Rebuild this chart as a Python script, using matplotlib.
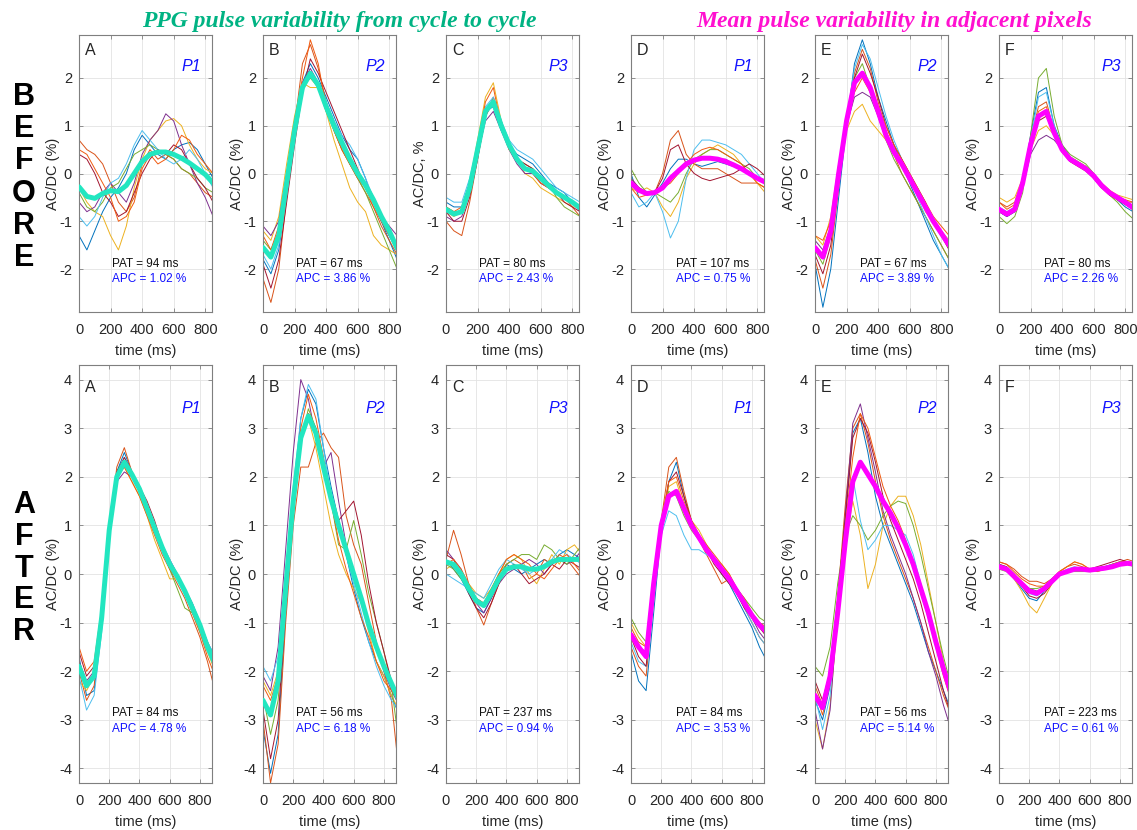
#!/usr/bin/env python3
# -*- coding: utf-8 -*-
"""PPG pulse variability, before / after : 2 x 6 panels."""

import matplotlib
matplotlib.use("Agg")
import matplotlib.pyplot as plt

plt.rcParams["font.family"] = ["Liberation Sans", "DejaVu Sans"]
plt.rcParams["axes.unicode_minus"] = False

# ---------------------------------------------------------------------
# time axes (ms)
t_before = list(range(0, 851, 50))
t_after = list(range(0, 901, 50))

# ---- BEFORE, cycle to cycle -----------------------------------------
before_A_mean = [-0.28, -0.48, -0.52, -0.42, -0.36, -0.38, -0.25, 0.0, 0.25, 0.40, 0.45, 0.45, 0.40, 0.32, 0.22, 0.10, -0.02, -0.2]
before_A_cycles = [
    [-1.3, -1.6, -1.2, -0.8, -0.5, -0.3, 0.0, 0.5, 0.8, 0.6, 0.4, 0.3, 0.5, 0.6, 0.65, 0.5, 0.2, -0.1],
    [0.7, 0.5, 0.4, 0.2, -0.2, -0.6, -0.8, -0.5, 0.2, 0.5, 0.3, 0.4, 0.3, 0.1, 0.0, -0.2, -0.4, -0.5],
    [-0.3, -0.6, -0.8, -0.9, -1.3, -1.6, -1.1, -0.3, 0.3, 0.7, 0.9, 1.1, 1.15, 1.0, 0.6, 0.3, 0.1, 0.0],
    [-0.6, -0.8, -0.7, -0.4, -0.2, -0.4, -0.6, -0.2, 0.4, 0.7, 0.9, 1.25, 1.1, 0.6, 0.2, -0.2, -0.5, -0.9],
    [-0.4, -0.7, -0.8, -0.6, -0.3, -0.2, 0.1, 0.4, 0.5, 0.6, 0.5, 0.4, 0.3, 0.1, 0.0, -0.1, -0.3, -0.4],
    [-0.9, -1.1, -0.9, -0.5, -0.2, -0.1, 0.2, 0.6, 0.9, 0.7, 0.5, 0.3, 0.2, 0.3, 0.5, 0.3, 0.0, -0.3],
    [0.4, 0.3, 0.0, -0.4, -0.6, -0.9, -0.8, -0.4, 0.0, 0.3, 0.5, 0.4, 0.6, 0.5, 0.2, -0.1, -0.3, -0.6],
    [0.5, 0.4, 0.1, -0.2, -0.5, -1.0, -0.9, -0.6, 0.1, 0.4, 0.2, 0.3, 0.5, 0.8, 0.7, 0.4, 0.2, 0.0],
]

before_B_mean = [-1.55, -1.75, -1.3, -0.2, 0.9, 1.8, 2.1, 1.85, 1.4, 1.0, 0.65, 0.3, 0.0, -0.25, -0.55, -0.9, -1.2, -1.57]
before_B_cycles = [
    [-1.8, -2.1, -1.6, -0.4, 0.8, 1.9, 2.3, 2.0, 1.6, 1.2, 0.8, 0.5, 0.3, -0.1, -0.6, -1.0, -1.4, -1.8],
    [-2.2, -2.7, -2.0, -0.5, 1.0, 2.3, 2.7, 2.2, 1.5, 0.9, 0.5, 0.2, -0.1, -0.4, -0.7, -1.1, -1.4, -1.7],
    [-1.2, -1.4, -0.9, 0.2, 1.2, 1.9, 1.8, 1.8, 1.3, 0.7, 0.2, -0.3, -0.6, -0.8, -1.3, -1.5, -1.6, -1.7],
    [-1.1, -1.3, -1.0, 0.0, 1.0, 1.9, 2.2, 1.9, 1.5, 1.1, 0.6, 0.2, 0.0, -0.3, -0.6, -0.9, -1.1, -1.3],
    [-1.4, -1.6, -1.2, -0.1, 1.0, 1.8, 2.0, 1.8, 1.3, 0.9, 0.5, 0.2, -0.1, -0.4, -0.8, -1.2, -1.6, -2.0],
    [-1.7, -2.0, -1.5, -0.3, 0.8, 1.7, 2.1, 1.9, 1.5, 1.1, 0.8, 0.6, 0.3, -0.1, -0.5, -0.9, -1.3, -1.6],
    [-1.9, -2.4, -1.8, -0.6, 0.6, 1.7, 2.4, 2.1, 1.7, 1.3, 0.9, 0.5, 0.1, -0.3, -0.6, -1.0, -1.3, -1.6],
    [-1.3, -1.6, -1.1, 0.0, 1.1, 2.0, 2.8, 2.3, 1.4, 0.9, 0.5, 0.2, -0.1, -0.3, -0.7, -1.0, -1.3, -1.5],
]

before_C_mean = [-0.75, -0.85, -0.8, -0.3, 0.5, 1.3, 1.5, 1.0, 0.6, 0.3, 0.1, 0.05, -0.1, -0.25, -0.4, -0.5, -0.6, -0.72]
before_C_cycles = [
    [-0.6, -0.7, -0.7, -0.2, 0.5, 1.3, 1.4, 0.9, 0.6, 0.4, 0.3, 0.2, 0.0, -0.2, -0.3, -0.4, -0.6, -0.8],
    [-1.0, -1.2, -1.3, -0.6, 0.3, 1.2, 1.6, 1.1, 0.6, 0.3, 0.1, 0.0, -0.2, -0.3, -0.4, -0.5, -0.7, -0.9],
    [-0.8, -0.9, -0.8, -0.2, 0.7, 1.6, 1.9, 1.1, 0.6, 0.3, 0.0, -0.1, -0.3, -0.4, -0.5, -0.6, -0.7, -0.7],
    [-0.9, -1.0, -0.9, -0.4, 0.4, 1.1, 1.3, 0.9, 0.5, 0.2, 0.0, 0.0, -0.2, -0.3, -0.4, -0.5, -0.6, -0.7],
    [-0.7, -0.8, -0.8, -0.3, 0.5, 1.3, 1.5, 1.0, 0.6, 0.3, 0.2, 0.1, -0.1, -0.2, -0.5, -0.7, -0.8, -0.9],
    [-0.5, -0.6, -0.6, -0.1, 0.6, 1.4, 1.6, 1.1, 0.7, 0.5, 0.4, 0.3, 0.1, -0.1, -0.3, -0.4, -0.5, -0.6],
    [-0.8, -1.0, -1.0, -0.5, 0.3, 1.2, 1.5, 1.0, 0.6, 0.3, 0.2, 0.1, -0.1, -0.3, -0.4, -0.6, -0.7, -0.8],
    [-0.7, -0.8, -0.7, -0.2, 0.6, 1.5, 1.8, 1.0, 0.5, 0.3, 0.1, 0.0, -0.2, -0.3, -0.4, -0.5, -0.6, -0.7],
]

# ---- BEFORE, adjacent pixels ----------------------------------------
before_D_mean = [-0.2, -0.35, -0.42, -0.4, -0.3, -0.1, 0.05, 0.2, 0.28, 0.32, 0.32, 0.3, 0.25, 0.18, 0.1, 0.0, -0.1, -0.18]
before_D_cycles = [
    [0.0, -0.5, -0.7, -0.45, -0.2, 0.1, 0.3, 0.3, 0.2, 0.15, 0.2, 0.25, 0.2, 0.15, 0.1, 0.0, -0.1, -0.2],
    [-0.1, -0.3, -0.4, -0.4, 0.0, 0.7, 0.9, 0.4, 0.2, 0.1, 0.1, 0.1, 0.0, -0.1, -0.2, -0.2, -0.2, -0.3],
    [-0.3, -0.4, -0.3, -0.4, -0.7, -0.9, -0.6, -0.1, 0.2, 0.4, 0.5, 0.6, 0.5, 0.4, 0.2, 0.0, -0.2, -0.4],
    [-0.1, -0.3, -0.4, -0.4, -0.3, -0.1, 0.1, 0.2, 0.3, 0.3, 0.3, 0.3, 0.3, 0.2, 0.1, 0.0, -0.1, -0.2],
    [0.1, -0.2, -0.4, -0.4, -0.5, -0.6, -0.4, 0.0, 0.3, 0.4, 0.5, 0.5, 0.4, 0.3, 0.2, 0.1, -0.1, -0.2],
    [-0.4, -0.7, -0.6, -0.4, -0.8, -1.35, -1.0, -0.1, 0.5, 0.7, 0.7, 0.65, 0.6, 0.5, 0.4, 0.2, 0.0, -0.2],
    [-0.2, -0.3, -0.4, -0.4, -0.1, 0.5, 0.6, 0.2, 0.0, -0.1, -0.15, -0.1, -0.05, 0.0, 0.1, 0.2, 0.1, -0.05],
    [-0.3, -0.5, -0.45, -0.4, -0.3, -0.2, 0.0, 0.2, 0.4, 0.5, 0.55, 0.5, 0.4, 0.3, 0.2, 0.0, -0.2, -0.3],
]

before_E_mean = [-1.55, -1.75, -1.2, 0.0, 1.1, 1.9, 2.1, 1.8, 1.3, 0.8, 0.45, 0.2, -0.1, -0.4, -0.7, -1.0, -1.25, -1.5]
before_E_cycles = [
    [-1.9, -2.8, -2.0, -0.5, 1.0, 2.3, 2.8, 2.3, 1.6, 1.1, 0.6, 0.2, -0.2, -0.6, -1.0, -1.4, -1.7, -2.0],
    [-1.8, -2.4, -1.7, -0.3, 1.1, 2.1, 2.6, 2.2, 1.5, 0.9, 0.4, 0.0, -0.3, -0.6, -0.9, -1.2, -1.5, -1.8],
    [-1.3, -1.5, -0.9, 0.2, 0.9, 1.3, 1.45, 1.1, 0.9, 0.7, 0.4, 0.2, -0.1, -0.4, -0.8, -1.0, -1.2, -1.4],
    [-1.4, -1.6, -1.1, 0.1, 1.0, 1.6, 1.7, 1.6, 1.2, 0.8, 0.5, 0.2, -0.1, -0.4, -0.7, -1.0, -1.3, -1.5],
    [-1.6, -1.9, -1.3, 0.0, 1.2, 2.0, 2.3, 1.8, 1.2, 0.7, 0.3, 0.0, -0.3, -0.6, -0.9, -1.2, -1.5, -1.8],
    [-1.5, -1.7, -1.1, 0.0, 1.1, 2.2, 2.7, 2.4, 1.8, 1.2, 0.7, 0.3, -0.1, -0.5, -0.9, -1.3, -1.7, -2.0],
    [-1.7, -2.1, -1.5, -0.2, 1.0, 2.0, 2.5, 2.1, 1.6, 1.0, 0.6, 0.3, 0.0, -0.3, -0.6, -1.0, -1.3, -1.6],
    [-1.3, -1.4, -1.0, 0.1, 1.0, 1.7, 2.0, 1.7, 1.4, 1.0, 0.6, 0.3, 0.0, -0.3, -0.6, -0.9, -1.1, -1.3],
]

before_F_mean = [-0.75, -0.85, -0.75, -0.2, 0.6, 1.2, 1.3, 0.85, 0.5, 0.3, 0.2, 0.1, -0.05, -0.25, -0.4, -0.5, -0.6, -0.72]
before_F_cycles = [
    [-0.8, -0.9, -0.8, -0.2, 0.8, 1.7, 1.8, 1.0, 0.6, 0.35, 0.25, 0.15, 0.0, -0.2, -0.4, -0.55, -0.7, -0.8],
    [-0.6, -0.7, -0.6, -0.1, 0.7, 1.4, 1.5, 0.9, 0.5, 0.3, 0.2, 0.1, -0.1, -0.3, -0.4, -0.5, -0.6, -0.6],
    [-0.5, -0.6, -0.5, -0.1, 0.5, 0.9, 1.0, 0.8, 0.5, 0.35, 0.25, 0.15, 0.0, -0.2, -0.35, -0.45, -0.5, -0.55],
    [-0.8, -0.9, -0.8, -0.3, 0.4, 0.7, 0.8, 0.7, 0.5, 0.3, 0.2, 0.1, -0.05, -0.25, -0.4, -0.5, -0.6, -0.7],
    [-0.9, -1.05, -0.9, -0.4, 0.8, 2.0, 2.2, 1.2, 0.6, 0.4, 0.3, 0.2, 0.0, -0.25, -0.45, -0.6, -0.8, -0.95],
    [-0.7, -0.8, -0.7, -0.2, 0.7, 1.6, 1.7, 1.0, 0.5, 0.3, 0.2, 0.1, -0.05, -0.25, -0.4, -0.5, -0.65, -0.75],
    [-0.75, -0.85, -0.75, -0.2, 0.5, 1.1, 1.2, 0.8, 0.45, 0.25, 0.15, 0.05, -0.1, -0.3, -0.45, -0.55, -0.65, -0.75],
    [-0.6, -0.75, -0.65, -0.15, 0.6, 1.3, 1.4, 0.85, 0.45, 0.3, 0.2, 0.1, -0.05, -0.2, -0.35, -0.5, -0.55, -0.6],
]

# ---- AFTER, cycle to cycle ------------------------------------------
after_A_mean = [-1.9, -2.3, -2.1, -0.9, 0.9, 2.0, 2.3, 2.05, 1.75, 1.35, 0.95, 0.55, 0.2, -0.05, -0.35, -0.7, -1.05, -1.5, -1.85]
after_A_cycles = [
    [-1.7, -2.5, -2.4, -1.1, 0.8, 2.1, 2.5, 2.1, 1.8, 1.4, 1.0, 0.6, 0.2, -0.1, -0.4, -0.7, -1.0, -1.4, -1.7],
    [-2.0, -2.6, -2.3, -1.0, 0.9, 2.2, 2.6, 2.1, 1.7, 1.4, 1.0, 0.5, 0.1, -0.2, -0.5, -0.9, -1.3, -1.8, -2.4],
    [-2.2, -2.4, -2.1, -0.8, 1.0, 2.0, 2.2, 1.9, 1.6, 1.2, 0.7, 0.3, -0.1, -0.1, -0.4, -0.8, -1.2, -1.6, -2.0],
    [-1.8, -2.2, -2.0, -0.8, 1.0, 1.9, 2.1, 2.0, 1.8, 1.4, 1.0, 0.6, 0.3, 0.0, -0.3, -0.6, -1.0, -1.4, -1.8],
    [-1.9, -2.3, -2.1, -0.9, 0.9, 2.0, 2.3, 2.0, 1.7, 1.3, 0.9, 0.5, 0.1, -0.3, -0.7, -0.8, -1.1, -1.5, -1.9],
    [-2.1, -2.8, -2.5, -1.2, 0.7, 1.9, 2.4, 2.1, 1.8, 1.4, 1.0, 0.6, 0.3, 0.0, -0.3, -0.6, -1.0, -1.4, -1.7],
    [-1.6, -2.1, -1.9, -0.8, 1.0, 2.1, 2.4, 2.1, 1.8, 1.5, 1.1, 0.6, 0.2, -0.1, -0.4, -0.7, -1.1, -1.5, -1.9],
    [-1.5, -2.0, -1.8, -0.7, 1.0, 2.0, 2.2, 1.9, 1.6, 1.2, 0.8, 0.4, 0.1, -0.1, -0.4, -0.8, -1.2, -1.7, -2.1],
]

after_B_mean = [-2.6, -2.9, -2.2, -0.3, 1.5, 2.8, 3.25, 2.9, 2.2, 1.55, 1.0, 0.5, 0.0, -0.5, -1.05, -1.5, -1.9, -2.25, -2.6]
after_B_cycles = [
    [-3.2, -4.1, -3.3, -0.8, 1.5, 3.2, 3.8, 3.5, 2.6, 1.8, 1.1, 0.4, -0.3, -0.9, -1.4, -1.8, -2.1, -2.5, -2.9],
    [-3.0, -4.3, -3.5, -1.0, 1.0, 2.2, 2.2, 2.7, 2.9, 2.6, 2.4, 1.2, 0.6, 0.2, -0.6, -1.4, -2.0, -2.6, -4.1],
    [-2.2, -2.5, -2.0, -0.2, 1.6, 2.8, 3.2, 2.6, 1.8, 1.0, 0.4, 0.0, -0.3, -0.6, -1.2, -1.8, -2.1, -2.5, -2.8],
    [-2.1, -2.4, -1.5, 0.5, 2.5, 4.0, 3.6, 2.8, 2.2, 2.5, 1.5, 0.6, 0.0, -0.5, -1.0, -1.5, -2.0, -2.4, -2.7],
    [-2.5, -3.3, -2.6, -0.6, 1.4, 2.7, 3.4, 3.0, 2.3, 1.5, 0.6, 0.5, 1.1, 0.4, -0.4, -1.0, -1.6, -2.3, -3.5],
    [-1.9, -2.2, -1.7, 0.0, 1.8, 3.2, 3.9, 3.6, 2.6, 1.6, 1.0, 0.4, -0.2, -0.8, -1.4, -1.9, -2.3, -2.6, -2.8],
    [-2.8, -3.8, -3.0, -0.7, 1.3, 2.7, 3.3, 3.0, 2.3, 1.6, 1.1, 1.3, 1.5, 0.8, -0.2, -1.0, -1.6, -2.2, -2.6],
    [-2.3, -2.6, -2.1, -0.3, 1.6, 3.0, 3.7, 3.2, 2.4, 1.5, 0.7, 0.1, -0.4, -0.9, -1.3, -1.8, -2.2, -2.4, -2.6],
]

after_C_mean = [0.25, 0.2, 0.0, -0.3, -0.55, -0.65, -0.4, -0.1, 0.1, 0.15, 0.15, 0.1, 0.1, 0.15, 0.25, 0.3, 0.3, 0.3, 0.3]
after_C_cycles = [
    [0.3, 0.1, -0.1, -0.4, -0.7, -0.8, -0.5, -0.1, 0.2, 0.1, 0.0, 0.1, 0.2, 0.3, 0.2, 0.4, 0.5, 0.4, 0.3],
    [0.3, 0.9, 0.4, -0.2, -0.7, -1.05, -0.6, -0.2, 0.2, 0.3, 0.2, -0.1, 0.0, 0.3, 0.2, 0.4, 0.3, 0.1, -0.1],
    [0.1, 0.2, 0.0, -0.2, -0.4, -0.5, -0.3, 0.0, 0.3, 0.4, 0.3, 0.0, -0.2, 0.1, 0.4, 0.2, 0.5, 0.6, 0.4],
    [0.5, 0.3, 0.1, -0.3, -0.6, -0.8, -0.5, -0.2, 0.0, 0.1, 0.2, 0.3, 0.2, 0.0, 0.2, 0.3, 0.2, 0.3, 0.5],
    [0.2, 0.1, -0.1, -0.3, -0.5, -0.6, -0.3, 0.0, 0.2, 0.3, 0.4, 0.4, 0.3, 0.6, 0.5, 0.3, 0.2, 0.4, 0.6],
    [0.0, -0.1, -0.2, -0.3, -0.4, -0.5, -0.2, 0.1, 0.3, 0.2, 0.1, 0.0, 0.1, 0.2, 0.3, 0.5, 0.4, 0.3, 0.2],
    [0.4, 0.3, 0.0, -0.4, -0.7, -0.9, -0.6, -0.2, 0.1, 0.2, 0.0, -0.2, -0.1, 0.0, 0.2, 0.1, 0.3, 0.2, 0.1],
    [0.2, 0.3, 0.1, -0.2, -0.5, -0.6, -0.4, 0.0, 0.3, 0.4, 0.3, 0.2, 0.0, -0.1, 0.1, 0.3, 0.4, 0.2, 0.0],
]

# ---- AFTER, adjacent pixels -----------------------------------------
after_D_mean = [-1.25, -1.5, -1.7, -0.2, 1.0, 1.6, 1.7, 1.35, 1.0, 0.75, 0.5, 0.3, 0.1, -0.1, -0.35, -0.6, -0.85, -1.05, -1.2]
after_D_cycles = [
    [-1.6, -2.2, -2.4, -0.8, 0.9, 1.9, 2.3, 1.6, 1.0, 0.8, 0.5, 0.3, 0.0, -0.2, -0.5, -0.8, -1.1, -1.5, -1.8],
    [-1.5, -1.9, -2.1, -0.5, 1.1, 2.2, 2.4, 1.7, 1.1, 0.7, 0.4, 0.1, -0.2, -0.1, -0.4, -0.7, -1.0, -1.3, -1.5],
    [-1.0, -1.3, -1.5, -0.1, 1.0, 1.8, 1.9, 1.4, 1.1, 0.9, 0.6, 0.3, 0.2, 0.0, -0.3, -0.6, -0.8, -1.0, -1.2],
    [-1.2, -1.5, -1.6, -0.2, 1.0, 1.6, 1.7, 1.3, 1.0, 0.8, 0.5, 0.3, 0.1, -0.1, -0.4, -0.6, -0.9, -1.2, -1.4],
    [-0.9, -1.2, -1.4, 0.0, 1.1, 1.7, 1.6, 1.2, 0.9, 0.7, 0.5, 0.3, 0.1, -0.1, -0.3, -0.5, -0.7, -0.9, -1.0],
    [-1.4, -1.8, -1.9, -0.5, 0.8, 1.3, 1.2, 0.8, 0.5, 0.5, 0.4, 0.3, 0.1, -0.1, -0.4, -0.7, -1.0, -1.3, -1.5],
    [-1.3, -1.7, -1.9, -0.4, 1.0, 1.9, 2.1, 1.6, 1.1, 0.8, 0.5, 0.2, 0.0, -0.2, -0.4, -0.7, -0.9, -1.1, -1.3],
    [-1.1, -1.4, -1.5, -0.1, 1.1, 1.9, 2.0, 1.5, 1.1, 0.8, 0.6, 0.4, 0.2, 0.0, -0.3, -0.5, -0.8, -1.0, -1.1],
]

after_E_mean = [-2.5, -2.75, -2.1, -0.8, 0.65, 1.9, 2.3, 2.05, 1.8, 1.5, 1.25, 0.95, 0.6, 0.2, -0.3, -0.8, -1.4, -1.95, -2.45]
after_E_cycles = [
    [-2.6, -3.0, -2.3, -0.6, 1.2, 2.9, 3.2, 2.5, 1.6, 1.0, 0.6, 0.2, -0.2, -0.6, -1.1, -1.6, -2.0, -2.4, -2.8],
    [-2.3, -2.7, -2.0, -0.5, 1.4, 3.0, 3.3, 2.7, 1.9, 1.2, 0.7, 0.3, -0.1, -0.5, -1.0, -1.5, -2.0, -2.5, -2.9],
    [-3.0, -3.6, -2.7, -0.9, 0.6, 1.5, 0.8, -0.3, 0.2, 1.0, 1.4, 1.6, 1.6, 1.2, 0.6, -0.2, -1.0, -1.8, -2.6],
    [-2.8, -3.6, -2.8, -0.8, 1.2, 3.1, 3.5, 2.8, 2.1, 1.3, 0.8, 0.4, 0.0, -0.5, -1.0, -1.6, -2.1, -2.7, -3.2],
    [-1.9, -2.1, -1.5, -0.2, 0.8, 1.2, 1.0, 0.7, 0.9, 1.2, 1.4, 1.5, 1.45, 1.0, 0.4, -0.3, -1.0, -1.7, -2.3],
    [-2.5, -3.2, -2.5, -0.7, 0.9, 2.0, 1.1, 0.5, 0.7, 1.0, 1.0, 0.9, 0.8, 0.4, -0.2, -0.8, -1.4, -2.0, -2.5],
    [-2.2, -2.6, -2.0, -0.5, 1.1, 2.8, 3.2, 2.9, 2.3, 1.6, 1.1, 0.7, 0.3, -0.1, -0.6, -1.2, -1.8, -2.4, -2.9],
    [-2.4, -2.9, -2.2, -0.6, 1.0, 2.4, 3.3, 3.0, 2.4, 1.8, 1.4, 1.1, 0.7, 0.2, -0.4, -0.9, -1.5, -2.1, -2.6],
]

after_F_mean = [0.15, 0.1, -0.05, -0.2, -0.35, -0.4, -0.3, -0.15, 0.0, 0.05, 0.1, 0.1, 0.08, 0.1, 0.12, 0.15, 0.2, 0.22, 0.2]
after_F_cycles = [
    [0.2, 0.1, -0.1, -0.3, -0.5, -0.55, -0.35, -0.15, 0.0, 0.05, 0.1, 0.1, 0.1, 0.1, 0.15, 0.2, 0.2, 0.2, 0.2],
    [0.25, 0.2, 0.1, -0.05, -0.15, -0.15, -0.2, -0.1, 0.05, 0.15, 0.2, 0.15, 0.1, 0.1, 0.1, 0.15, 0.25, 0.3, 0.25],
    [0.2, 0.1, -0.1, -0.35, -0.65, -0.8, -0.5, -0.2, 0.05, 0.15, 0.25, 0.2, 0.1, 0.05, 0.1, 0.15, 0.2, 0.2, 0.15],
    [0.15, 0.1, -0.05, -0.2, -0.3, -0.35, -0.3, -0.15, 0.0, 0.05, 0.1, 0.1, 0.1, 0.1, 0.15, 0.2, 0.25, 0.25, 0.2],
    [0.1, 0.05, -0.05, -0.2, -0.3, -0.3, -0.25, -0.1, 0.0, 0.05, 0.05, 0.05, 0.05, 0.1, 0.1, 0.15, 0.2, 0.2, 0.15],
    [0.2, 0.15, 0.0, -0.2, -0.4, -0.45, -0.35, -0.15, 0.0, 0.1, 0.15, 0.1, 0.05, 0.1, 0.15, 0.2, 0.25, 0.2, 0.15],
    [0.2, 0.15, 0.0, -0.25, -0.45, -0.5, -0.4, -0.2, 0.0, 0.05, 0.1, 0.1, 0.1, 0.15, 0.2, 0.25, 0.3, 0.25, 0.2],
    [0.25, 0.2, 0.05, -0.1, -0.2, -0.25, -0.25, -0.1, 0.05, 0.15, 0.25, 0.2, 0.1, 0.05, 0.1, 0.2, 0.25, 0.25, 0.2],
]

# panel annotations
letters = ["A", "B", "C", "D", "E", "F"]
pixels = ["P1", "P2", "P3", "P1", "P2", "P3"]
pat_before = [94, 67, 80, 107, 67, 80]
apc_before = ["1.02", "3.86", "2.43", "0.75", "3.89", "2.26"]
pat_after = [84, 56, 237, 84, 56, 223]
apc_after = ["4.78", "6.18", "0.94", "3.53", "5.14", "0.61"]
ylabels_before = ["AC/DC (%)", "AC/DC (%)", "AC/DC, %", "AC/DC (%)", "AC/DC (%)", "AC/DC (%)"]

# ---------------------------------------------------------------------
CYCLE_COLORS = ["#0072BD", "#D95319", "#EDB120", "#7E2F8E",
                "#77AC30", "#4DBEEE", "#A2142F", "#F05A10"]
MEAN_CYAN = "#22E6C0"
MEAN_MAGENTA = "#FF00FF"
TITLE_GREEN = "#00B383"
TITLE_MAGENTA = "#FF10D0"

W, H = 1137, 830
LEFTS = [79, 263, 446, 631, 815, 999]
AX_W = 133
ROW_TOP = [(35, 312), (365, 783)]


def draw_panel(ax, t, cycles, mean, mean_color, letter, pix, pat, apc,
               ylabel, xlim, ylim, yticks, txt_x, txt_y):
    for i, c in enumerate(cycles):
        ax.plot(t, c, color=CYCLE_COLORS[i % len(CYCLE_COLORS)], lw=0.7, zorder=2)
    ax.plot(t, mean, color=mean_color, lw=3.6, solid_capstyle="round", zorder=3)

    ax.set_xlim(*xlim)
    ax.set_ylim(*ylim)
    ax.set_xticks([0, 200, 400, 600, 800])
    ax.set_yticks(yticks)
    ax.set_yticklabels([str(v) for v in yticks])
    ax.grid(True, color="#e3e3e3", lw=0.6, zorder=0)
    ax.set_axisbelow(True)
    ax.tick_params(direction="in", length=3, width=0.6, top=True, right=True,
                   labelsize=10.5, colors="#7f7f7f", labelcolor="#262626")
    ax.tick_params(axis="x", pad=8)
    ax.tick_params(axis="y", pad=5)
    for s in ax.spines.values():
        s.set_color("#7f7f7f")
        s.set_linewidth(0.8)
    ax.set_xlabel("time (ms)", fontsize=10.5, color="#262626", labelpad=5)
    ax.set_ylabel(ylabel, fontsize=10.5, color="#262626")
    ax.yaxis.set_label_coords(-0.145, 0.5)

    ax.text(0.045, txt_y[0], letter, transform=ax.transAxes, fontsize=11.5,
            ha="left", va="center", color="#262626")
    ax.text(0.92, txt_y[1], pix, transform=ax.transAxes, fontsize=11.5,
            ha="right", va="center", color="#1010ff", style="italic")
    ax.text(txt_x, txt_y[2], f"PAT = {pat} ms", transform=ax.transAxes,
            fontsize=8.5, ha="left", va="center", color="#111111")
    ax.text(txt_x, txt_y[3], f"APC = {apc} %", transform=ax.transAxes,
            fontsize=8.5, ha="left", va="center", color="#1010ff")


def main() -> None:
    fig = plt.figure(figsize=(W / 100, H / 100), dpi=100)

    before = [
        (before_A_cycles, before_A_mean), (before_B_cycles, before_B_mean),
        (before_C_cycles, before_C_mean), (before_D_cycles, before_D_mean),
        (before_E_cycles, before_E_mean), (before_F_cycles, before_F_mean),
    ]
    after = [
        (after_A_cycles, after_A_mean), (after_B_cycles, after_B_mean),
        (after_C_cycles, after_C_mean), (after_D_cycles, after_D_mean),
        (after_E_cycles, after_E_mean), (after_F_cycles, after_F_mean),
    ]

    for row, (top, bot) in enumerate(ROW_TOP):
        for k in range(6):
            ax = fig.add_axes([LEFTS[k] / W, 1 - bot / H, AX_W / W, (bot - top) / H])
            mcol = MEAN_CYAN if k < 3 else MEAN_MAGENTA
            txt_x = 0.25 if k < 3 else 0.34
            if row == 0:
                cyc, mean = before[k]
                draw_panel(ax, t_before, cyc, mean, mcol, letters[k], pixels[k],
                           pat_before[k], apc_before[k], ylabels_before[k],
                           (0, 843), (-2.9, 2.9), [-2, -1, 0, 1, 2],
                           txt_x, (0.945, 0.886, 0.173, 0.118))
            else:
                cyc, mean = after[k]
                draw_panel(ax, t_after, cyc, mean, mcol, letters[k], pixels[k],
                           pat_after[k], apc_after[k], "AC/DC (%)",
                           (0, 880), (-4.3, 4.3), [-4, -3, -2, -1, 0, 1, 2, 3, 4],
                           txt_x, (0.947, 0.897, 0.167, 0.129))

    # row titles
    fig.text(339 / W, 1 - 21 / H, "PPG pulse variability from cycle to cycle",
             family=["Liberation Serif", "DejaVu Serif"], style="italic",
             weight="bold", fontsize=17, color=TITLE_GREEN, ha="center", va="center")
    fig.text(894 / W, 1 - 21 / H, "Mean pulse variability in adjacent pixels",
             family=["Liberation Serif", "DejaVu Serif"], style="italic",
             weight="bold", fontsize=17, color=TITLE_MAGENTA, ha="center", va="center")

    # vertical BEFORE / AFTER
    for i, ch in enumerate("BEFORE"):
        fig.text(24 / W, 1 - (97 + i * 32.2) / H, ch, fontsize=22, weight="bold",
                 ha="center", va="center", color="black")
    for i, ch in enumerate("AFTER"):
        fig.text(24 / W, 1 - (505 + i * 31.8) / H, ch, fontsize=22, weight="bold",
                 ha="center", va="center", color="black")

    fig.savefig("out.png", dpi=100)


if __name__ == "__main__":
    main()
